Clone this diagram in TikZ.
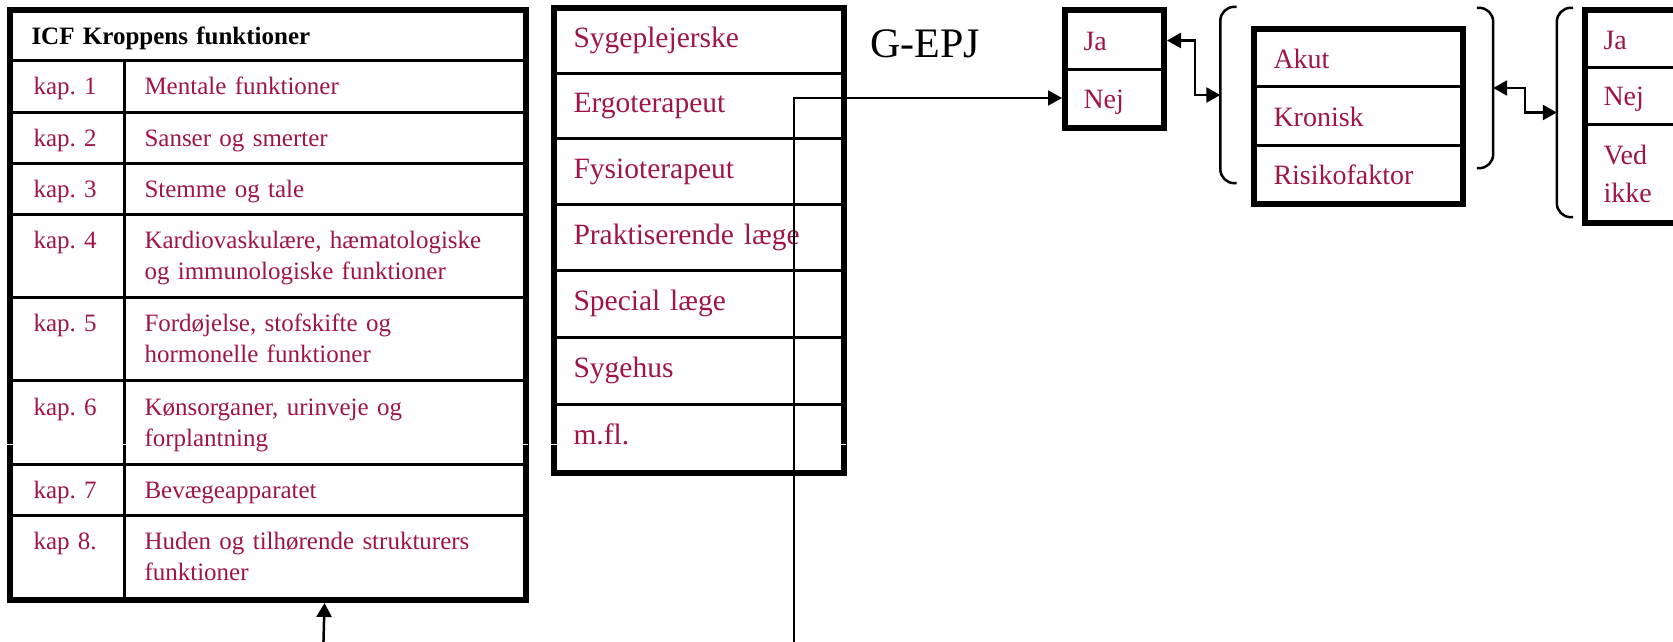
\documentclass[tikz,border=0pt]{standalone}
\usepackage{fontspec}
\setmainfont{Liberation Serif}
\usepackage{tikz}
\usetikzlibrary{arrows.meta}
\definecolor{kapred}{RGB}{160,20,70}
\frenchspacing

\tikzset{
    % one table cell, text at the left
    tabcell/.style={draw, line width=3pt, anchor=north west, inner ysep=0pt,
        align=left, text=kapred, text height=20pt, text depth=4pt,
        font=\fontsize{25}{31}\selectfont},
    kapcell/.style={tabcell, minimum width=113pt, inner xsep=22pt, text width=69pt},
    funcell/.style={tabcell, minimum width=400pt, inner xsep=20pt, text width=360pt},
    twolines/.style={text depth=35pt},
    bigcell/.style={tabcell, inner xsep=18pt, text height=24pt,
        font=\fontsize{28}{34}\selectfont},
    rolecell/.style={bigcell, minimum width=287pt, text width=251pt,
        text height=17pt, font=\fontsize{29.5}{34}\selectfont},
    yncell/.style={bigcell, minimum width=96pt, inner xsep=17pt, text width=62pt},
    kindcell/.style={bigcell, minimum width=206pt, text width=170pt},
    outerline/.style={line width=6pt},
    bracebox/.style={inner sep=0pt, minimum width=16pt},
    bracket/.style={line width=2.5pt, rounded corners=14pt},
    conn/.style={line width=2.5pt, -{Triangle[length=14pt,width=15pt]}},
    biconn/.style={line width=2.5pt,
        {Triangle[length=14pt,width=15pt]}-{Triangle[length=14pt,width=15pt]}}
}

\begin{document}
\begin{tikzpicture}[x=1pt, y=-1pt]
    \useasboundingbox (0,0) rectangle (1673,642);
    \clip (0,0) rectangle (1673,642);

    % ICF table
    \node[tabcell, minimum width=513pt, inner xsep=20pt, text width=473pt, text=black,
        text height=22pt, font=\bfseries\fontsize{25}{31}\selectfont,
        minimum height=49pt] (hd) at (10,10) {ICF Kroppens funktioner};
    \node[kapcell, minimum height=52pt] (k1l) at (10,59) {kap. 1};
    \node[funcell, minimum height=52pt] (k1r) at (123,59) {Mentale funktioner};
    \node[kapcell, minimum height=51pt] (k2l) at (10,111) {kap. 2};
    \node[funcell, minimum height=51pt] (k2r) at (123,111) {Sanser og smerter};
    \node[kapcell, minimum height=51pt] (k3l) at (10,162) {kap. 3};
    \node[funcell, minimum height=51pt] (k3r) at (123,162) {Stemme og tale};
    \node[kapcell, twolines, minimum height=83pt] (k4l) at (10,213) {kap. 4};
    \node[funcell, twolines, minimum height=83pt] (k4r) at (123,213)
        {Kardiovaskulære, hæmatologiske\\og immunologiske funktioner};
    \node[kapcell, twolines, minimum height=83pt] (k5l) at (10,296) {kap. 5};
    \node[funcell, twolines, minimum height=83pt] (k5r) at (123,296)
        {Fordøjelse, stofskifte og\\hormonelle funktioner};
    \node[kapcell, twolines, minimum height=84pt] (k6l) at (10,379) {kap. 6};
    \node[funcell, twolines, minimum height=84pt] (k6r) at (123,379)
        {Kønsorganer, urinveje og\\forplantning};
    \node[kapcell, minimum height=51pt] (k7l) at (10,463) {kap. 7};
    \node[funcell, minimum height=51pt] (k7r) at (123,463) {Bevægeapparatet};
    \node[kapcell, twolines, minimum height=83pt] (k8l) at (10,514) {kap 8.};
    \node[funcell, twolines, minimum height=83pt] (k8r) at (123,514)
        {Huden og tilhørende strukturers\\funktioner};
    \draw[outerline] (hd.north west) rectangle (k8r.south east);

    % who writes
    \node[rolecell, minimum height=64pt] (syg) at (554,8) {Sygeplejerske};
    \node[rolecell, minimum height=65pt] (erg) at (554,72) {Ergoterapeut};
    \node[rolecell, minimum height=66pt] (fys) at (554,137) {Fysioterapeut};
    \node[rolecell, minimum height=66pt] (prak) at (554,203) {Praktiserende læge};
    \node[rolecell, minimum height=67pt] (spec) at (554,269) {Special læge};
    \node[rolecell, minimum height=67pt] (hus) at (554,336) {Sygehus};
    \node[rolecell, minimum height=67pt] (mfl) at (554,403) {m.fl.};
    \draw[outerline] (syg.north west) rectangle (mfl.south east);

    \node[anchor=base west, inner sep=0pt, font=\fontsize{42}{50}\selectfont]
        (gepj) at (870,58) {G-EPJ};

    % ja / nej
    \node[yncell, minimum height=58pt] (ja) at (1065,10) {Ja};
    \node[yncell, minimum height=57pt] (nej) at (1065,68) {Nej};
    \draw[outerline] (ja.north west) rectangle (nej.south east);

    % kind of problem
    \node[kindcell, minimum height=56pt] (akut) at (1254,29) {Akut};
    \node[kindcell, minimum height=59pt] (kronisk) at (1254,85) {Kronisk};
    \node[kindcell, minimum height=57pt] (risiko) at (1254,144) {Risikofaktor};
    \draw[outerline] (akut.north west) rectangle (risiko.south east);

    % last box, runs off the page
    \node[yncell, minimum width=130pt, text width=96pt, minimum height=56pt] (ja2) at (1585,10) {Ja};
    \node[yncell, minimum width=130pt, text width=96pt, minimum height=57pt] (nej2) at (1585,66) {Nej};
    \node[yncell, minimum width=130pt, text width=96pt, minimum height=97pt, text depth=42pt,
        font=\fontsize{28}{38}\selectfont] (vedikke) at (1585,123) {Ved\\ikke};
    \draw[outerline] (ja2.north west) rectangle (vedikke.south east);

    % brackets
    \node[bracebox, minimum height=176pt] (brA) at (1228.5,95) {};
    \draw[bracket] (brA.north east) -| (brA.west) |- (brA.south east);
    \node[bracebox, minimum height=160pt] (brB) at (1485,88) {};
    \draw[bracket] (brB.north west) -| (brB.east) |- (brB.south west);
    \node[bracebox, minimum height=209pt] (brC) at (1565,112.5) {};
    \draw[bracket] (brC.north east) -| (brC.west) |- (brC.south east);

    % small breaks in the frames
    \foreach \x in {10,123,523,554,841}
        \draw[white, line width=1.5pt] (\x-5,444.5) -- (\x+5,444.5);

    % connectors
    \coordinate (icfin) at (323,660);
    \draw[conn] (icfin) -- ([yshift=-3pt]k8r.south);
    \coordinate (ergin) at (794,660);
    \draw[conn, line width=2pt] (ergin) |- ([xshift=-3pt]nej.west);
    \draw[biconn] ([xshift=3pt]ja.east) -- ++(28,0) |- (brA.west);
    \draw[biconn] (brB.east) -- ++(32,0) |- (brC.west);
\end{tikzpicture}
\end{document}
